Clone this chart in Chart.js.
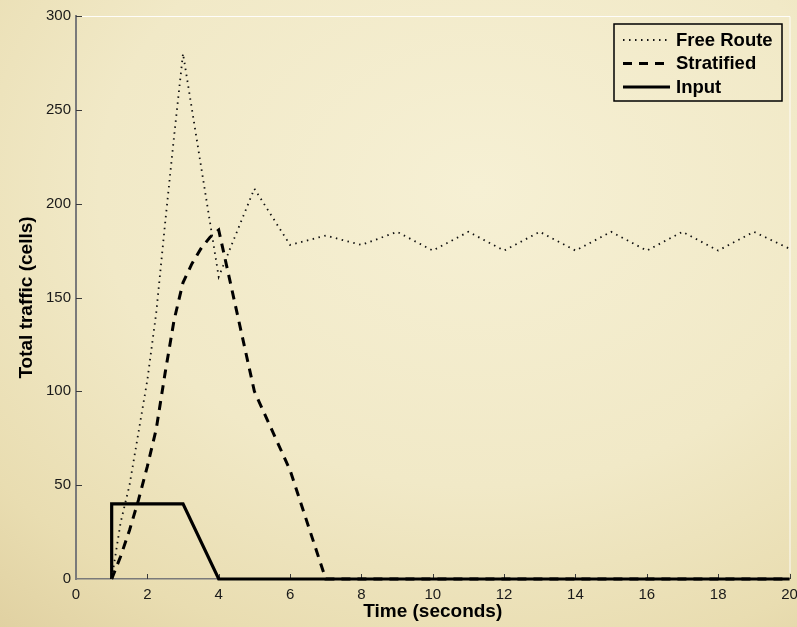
<!DOCTYPE html>
<html lang="en">
<head>
  <meta charset="UTF-8">
  <title>Total traffic</title>
  <script src="https://cdn.jsdelivr.net/npm/chart.js"></script>
  <style>
    html, body { margin: 0; padding: 0; }
    body {
      width: 797px;
      height: 627px;
      overflow: hidden;
      background: radial-gradient(ellipse 95% 95% at 60% 30%, #f6f0d4 0%, #f1e9c7 50%, #e9ddb1 80%, #dfcf9f 100%);
    }
    #wrap { position: relative; width: 797px; height: 627px; }
  </style>
</head>
<body>
  <div id="wrap"><canvas id="trafficChart"></canvas></div>

<script>
  // values
  const freeTime = [1, 1.1, 1.25, 1.5, 1.75, 2, 2.25, 2.5, 2.75, 3, 4, 5, 6, 7, 8, 9, 10, 11, 12, 13, 14, 15, 16, 17, 18, 19, 20];
  const freeTraffic = [0, 12, 30, 50, 78, 106, 142, 190, 236, 280, 161, 208, 178, 183, 178, 185, 175, 185, 175, 185, 175, 185, 175, 185, 175, 185, 176];

  const stratTime = [1, 1.25, 1.5, 1.75, 2, 2.25, 2.5, 2.75, 3, 3.25, 3.5, 3.75, 4, 5, 6, 7, 20];
  const stratTraffic = [0, 12, 26, 42, 60, 80, 110, 138, 158, 168, 176, 182, 186, 100, 58, 0, 0];

  const inputTime = [1, 1, 3, 4, 20];
  const inputTraffic = [0, 40, 40, 0, 0];

  const xTicks = [0, 2, 4, 6, 8, 10, 12, 14, 16, 18, 20];
  const yTicks = [0, 50, 100, 150, 200, 250, 300];

  const FONT = "'Liberation Sans', Arial, Helvetica, sans-serif";

  function toPoints(xs, ys) {
    return xs.map((x, i) => ({ x: x, y: ys[i] }));
  }

  // inward tick marks and the light box on top/right
  const axisDecor = {
    id: 'axisDecor',
    beforeDatasetsDraw(chart) {
      const ctx = chart.ctx;
      const area = chart.chartArea;
      const xs = chart.scales.x;
      const ys = chart.scales.y;
      ctx.save();
      ctx.strokeStyle = 'rgba(255,255,255,0.9)';
      ctx.lineWidth = 1;
      ctx.beginPath();
      ctx.moveTo(area.left + 6, area.top + 0.5);
      ctx.lineTo(area.right + 0.5, area.top + 0.5);
      ctx.lineTo(area.right + 0.5, area.bottom - 6);
      ctx.stroke();

      ctx.strokeStyle = '#3a3a3a';
      ctx.lineWidth = 1;
      ctx.beginPath();
      xTicks.forEach(t => {
        if (t === 0) return;
        const px = Math.round(xs.getPixelForValue(t)) + 0.5;
        ctx.moveTo(px, area.bottom);
        ctx.lineTo(px, area.bottom - 5);
      });
      yTicks.forEach(t => {
        if (t === 0) return;
        const py = Math.round(ys.getPixelForValue(t)) + 0.5;
        ctx.moveTo(area.left, py);
        ctx.lineTo(area.left + 6, py);
      });
      ctx.stroke();
      ctx.restore();
    }
  };

  // boxed legend in the upper right corner
  const boxLegend = {
    id: 'boxLegend',
    afterDraw(chart) {
      const ctx = chart.ctx;
      const left = 614, top = 24, width = 168, height = 77;
      const rowY = [40, 63.5, 87];
      ctx.save();
      ctx.strokeStyle = '#000';
      ctx.lineWidth = 1.5;
      ctx.strokeRect(left, top, width, height);
      chart.data.datasets.forEach((ds, i) => {
        const y = rowY[i];
        ctx.beginPath();
        ctx.setLineDash(ds.borderDash || []);
        ctx.lineWidth = ds.borderWidth;
        ctx.strokeStyle = ds.borderColor;
        ctx.moveTo(623, y);
        ctx.lineTo(670, y);
        ctx.stroke();
        ctx.setLineDash([]);
        ctx.fillStyle = '#000';
        ctx.font = 'bold 18.5px ' + FONT;
        ctx.textBaseline = 'middle';
        ctx.textAlign = 'left';
        ctx.fillText(ds.label, 676, y + 0.5);
      });
      ctx.restore();
    }
  };

  const chart = new Chart(document.getElementById('trafficChart').getContext('2d'), {
    type: 'scatter',
    data: {
      datasets: [
        {
          label: 'Free Route',
          data: toPoints(freeTime, freeTraffic),
          showLine: true,
          clip: false,
          borderColor: '#111',
          borderWidth: 1.8,
          borderDash: [1.5, 4.5],
          pointRadius: 0,
          tension: 0
        },
        {
          label: 'Stratified',
          data: toPoints(stratTime, stratTraffic),
          showLine: true,
          clip: false,
          borderColor: '#000',
          borderWidth: 3,
          borderDash: [9, 7],
          pointRadius: 0,
          tension: 0
        },
        {
          label: 'Input',
          data: toPoints(inputTime, inputTraffic),
          showLine: true,
          clip: false,
          borderColor: '#000',
          borderWidth: 3.2,
          pointRadius: 0,
          tension: 0
        }
      ]
    },
    options: {
      responsive: true,
      maintainAspectRatio: false,
      animation: false,
      layout: { padding: { left: 0, top: 16, right: 7.5, bottom: 0 } },
      plugins: {
        legend: { display: false },
        tooltip: { enabled: false }
      },
      scales: {
        x: {
          type: 'linear',
          min: 0,
          max: 20,
          afterBuildTicks: scale => { scale.ticks = xTicks.map(v => ({ value: v })); },
          afterFit: scale => { scale.height = 48; scale.paddingLeft = 0; scale.paddingRight = 0; },
          grid: { display: false, drawTicks: false, tickLength: 0 },
          border: { display: true, color: '#7a7a7a', width: 1.5 },
          ticks: {
            color: '#1a1a1a',
            padding: 7,
            maxRotation: 0,
            autoSkip: false,
            font: { family: FONT, size: 15 }
          },
          title: {
            display: true,
            text: 'Time (seconds)',
            color: '#000',
            padding: { top: 0, bottom: 4 },
            font: { family: FONT, size: 19, weight: 'bold' }
          }
        },
        y: {
          type: 'linear',
          min: 0,
          max: 300,
          afterBuildTicks: scale => { scale.ticks = yTicks.map(v => ({ value: v })); },
          afterFit: scale => { scale.width = 76; scale.paddingTop = 0; scale.paddingBottom = 0; },
          grid: { display: false, drawTicks: false, tickLength: 0 },
          border: { display: true, color: '#7a7a7a', width: 2 },
          ticks: {
            color: '#1a1a1a',
            padding: 5,
            autoSkip: false,
            font: { family: FONT, size: 15 }
          },
          title: {
            display: true,
            text: 'Total traffic (cells)',
            color: '#000',
            padding: { top: 15, bottom: 0 },
            font: { family: FONT, size: 19, weight: 'bold' }
          }
        }
      }
    },
    plugins: [axisDecor, boxLegend]
  });
</script>
</body>
</html>
